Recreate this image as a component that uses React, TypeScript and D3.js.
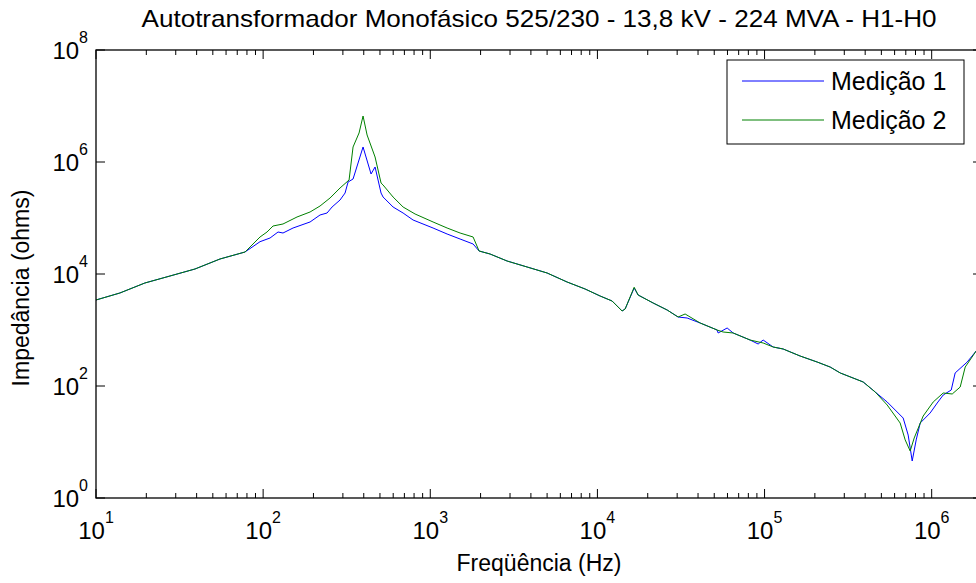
import React from "react";
import * as d3 from "d3";

const title = "Autotransformador Monofásico 525/230 - 13,8 kV - 224 MVA - H1-H0";
const xLabel = "Freqüência (Hz)";
const yLabel = "Impedância (ohms)";
const seriesNames = ["Medição 1", "Medição 2"];
const seriesColors = ["#0000ff", "#008000"];

const xTickExps = [1, 2, 3, 4, 5, 6];
const yTickExps = [0, 2, 4, 6, 8];

const freq1 = [10, 13.9, 19.6, 27.7, 39.1, 55.2, 77.9, 95.8, 110, 122.8, 131.5, 151, 190.9, 219, 241.2, 258.4, 288.5, 309.2, 322.2, 345.1, 396.1, 442.3, 467.4, 507.6, 521.9, 599, 687.6, 789, 1039, 1261, 1508, 1804, 1959, 2279, 2881, 3796, 5000, 6586, 8441, 10380, 12240, 14050, 14650, 16590, 17520, 21540, 26130, 30400, 34420, 41170, 52040, 52770, 59740, 64880, 82000, 91560, 98080, 112600, 129200, 163300, 206500, 247000, 283500, 389100, 459100, 541600, 675200, 723400, 764500, 807900, 853500, 979500, 1079000, 1172000, 1309000, 1382000, 1631000, 1846000, 2000000];
const imp1 = [3435, 4580, 6905, 9205, 12280, 18530, 24700, 37740, 43950, 56230, 53950, 66250, 84900, 113200, 122800, 157100, 209600, 279300, 439500, 497000, 1854000, 610700, 814400, 279300, 237100, 157100, 122800, 92100, 66250, 51790, 42170, 34340, 25760, 22750, 17060, 13340, 10420, 7197, 5395, 4046, 3296, 2183, 2371, 5623, 4217, 3036, 2276, 1706, 1637, 1334, 1000, 884, 1086, 884, 662, 562, 662, 497, 458, 343, 268, 218, 171, 118, 78.2, 51.8, 26.8, 13.3, 4.58, 10.9, 21.8, 33.0, 49.7, 69.0, 84.8, 171, 268, 422, 586];

const freq2 = [10, 13.9, 19.6, 27.7, 39.1, 55.2, 77.9, 95.8, 105.5, 114.6, 131.5, 159.5, 190.9, 219, 251.4, 288.5, 326.7, 345.1, 374.9, 396.1, 418.7, 467.4, 507.6, 521.9, 599, 687.6, 811, 1039, 1261, 1508, 1804, 1959, 2279, 2881, 3796, 5000, 6586, 8441, 10380, 12240, 14050, 14650, 16590, 17520, 21540, 26130, 30400, 33480, 41170, 52040, 56520, 64880, 82000, 98080, 112600, 129200, 163300, 206500, 247000, 283500, 389100, 459100, 541600, 647800, 694000, 743600, 786000, 889500, 1021000, 1172000, 1327000, 1481000, 1587000, 1846000, 2000000];
const imp2 = [3435, 4580, 6905, 9205, 12280, 18530, 24700, 45810, 56230, 71940, 78150, 104200, 128000, 163700, 227600, 343400, 477200, 1854000, 3296000, 6625000, 3036000, 1228000, 421700, 388400, 237100, 157100, 117900, 84900, 66250, 53950, 45810, 25760, 22750, 17060, 13340, 10420, 7197, 5395, 4046, 3296, 2183, 2371, 5800, 4217, 3036, 2276, 1706, 1931, 1334, 1000, 921, 884, 662, 586, 497, 458, 343, 268, 218, 171, 118, 78.2, 45.8, 21.8, 10.9, 6.9, 11.8, 29.1, 51.8, 75.0, 72.0, 95.9, 218, 422, 586];

const W = 976;
const H = 583;
const left = 96, right = 982, top = 50, bottom = 498;
const FONT = "'Liberation Sans', Arial, Helvetica, sans-serif";

export default function App() {
  const x = d3.scaleLog().domain([10, 2e6]).range([left, right]);
  const y = d3.scaleLog().domain([1, 1e8]).range([bottom, top]);
  const line = d3.line<[number, number]>().x(d => x(d[0])).y(d => y(d[1]));
  const s1 = freq1.map((f, i) => [f, imp1[i]] as [number, number]);
  const s2 = freq2.map((f, i) => [f, imp2[i]] as [number, number]);

  const xMinor: number[] = [];
  for (let e = 1; e <= 6; e++) for (let k = 2; k <= 9; k++) { const v = k * Math.pow(10, e); if (v <= 2e6) xMinor.push(v); }

  return (
    <svg width={W} height={H} style={{ position: "absolute", left: 0, top: 0, background: "#fff" }} fontFamily={FONT}>
      <rect x={0} y={0} width={W} height={H} fill="#fff" />
      <defs>
        <clipPath id="plotclip"><rect x={left} y={top} width={right - left} height={bottom - top} /></clipPath>
      </defs>
      <g clipPath="url(#plotclip)" fill="none" strokeWidth={1}>
        <path d={line(s1) || ""} stroke={seriesColors[0]} />
        <path d={line(s2) || ""} stroke={seriesColors[1]} />
      </g>
      <rect x={left} y={top} width={right - left} height={bottom - top} fill="none" stroke="#000" strokeWidth={1.3} />
      <g stroke="#000" strokeWidth={1}>
        {xMinor.map((v, i) => (
          <g key={"xm" + i}>
            <line x1={x(v)} x2={x(v)} y1={bottom} y2={bottom - 5} />
            <line x1={x(v)} x2={x(v)} y1={top} y2={top + 5} />
          </g>
        ))}
        {xTickExps.map(e => (
          <g key={"xM" + e}>
            <line x1={x(Math.pow(10, e))} x2={x(Math.pow(10, e))} y1={bottom} y2={bottom - 9} />
            <line x1={x(Math.pow(10, e))} x2={x(Math.pow(10, e))} y1={top} y2={top + 9} />
          </g>
        ))}
        {yTickExps.map(e => (
          <g key={"yM" + e}>
            <line x1={left} x2={left + 9} y1={y(Math.pow(10, e))} y2={y(Math.pow(10, e))} />
            <line x1={right} x2={right - 9} y1={y(Math.pow(10, e))} y2={y(Math.pow(10, e))} />
          </g>
        ))}
      </g>
      <g fill="#000">
        {xTickExps.map(e => (
          <text key={"xl" + e} x={x(Math.pow(10, e))} y={539} fontSize={24} textAnchor="middle">
            10<tspan fontSize={16} dy={-16}>{e}</tspan>
          </text>
        ))}
        {yTickExps.map(e => (
          <text key={"yl" + e} x={88} y={y(Math.pow(10, e)) + 8.5} fontSize={24} textAnchor="end">
            10<tspan fontSize={16} dy={-16}>{e}</tspan>
          </text>
        ))}
        <text x={(left + right) / 2} y={27} fontSize={24} textAnchor="middle" textLength={795} lengthAdjust="spacingAndGlyphs">{title}</text>
        <text x={(left + right) / 2} y={571} fontSize={23} textAnchor="middle">{xLabel}</text>
        <text transform={`translate(29,${(top + bottom) / 2 + 14}) rotate(-90)`} fontSize={23} textAnchor="middle">{yLabel}</text>
      </g>
      <g>
        <rect x={727} y={60} width={237} height={84} fill="#fff" stroke="#000" strokeWidth={1} />
        {seriesNames.map((n, i) => (
          <g key={n}>
            <line x1={742} x2={824} y1={81 + i * 39} y2={81 + i * 39} stroke={seriesColors[i]} strokeWidth={1} />
            <text x={831} y={81 + i * 39 + 9} fontSize={25} fill="#000">{n}</text>
          </g>
        ))}
      </g>
    </svg>
  );
}
